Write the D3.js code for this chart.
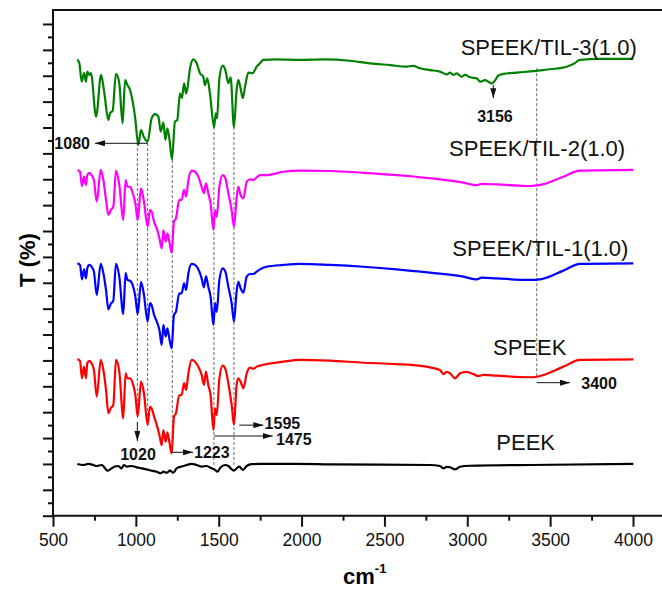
<!DOCTYPE html>
<html>
<head>
<meta charset="utf-8">
<style>
  body { margin: 0; background: #fff; }
  svg { display: block; font-family: "Liberation Sans", Arial, sans-serif; }
  .trace { fill: none; stroke-width: 2.2px; stroke-linejoin: round; }
  .axis line { stroke: #111; stroke-width: 2px; }
  .axis path { display: none; }
  .axis text { font-size: 17.5px; fill: #111; font-family: "Liberation Sans", Arial, sans-serif; }
  .guide { stroke: #666; stroke-width: 1px; stroke-dasharray: 3,2; }
  .note { font-size: 16px; font-weight: bold; fill: #111; }
  .name { font-size: 22px; fill: #111; }
</style>
</head>
<body>
<script src="https://cdn.jsdelivr.net/npm/d3@7"></script>
<script>

// series: [wavenumber (cm-1), T (offset, arbitrary units)]
var til3 = [[647,176.3],[659,174.8],[673,167.7],[687,171.0],[699,167.7],[707,171.6],[719,170.3],[729,171.0],
  [760,154.2],[790,170.3],[810,163.2],[834,152.9],[844,155.5],[860,156.5],[880,170.7],[900,167.1],[920,151.6],
  [935,168.4],[949,166.4],[965,164.5],[995,154.2],[1015,143.3],[1031,149.0],[1049,146.2],[1071,144.5],
  [1095,153.5],[1116,155.2],[1136,154.2],[1150,148.4],[1166,151.9],[1178,145.2],[1190,149.7],[1202,145.8],
  [1218,137.7],[1236,152.3],[1250,152.9],[1266,163.2],[1278,161.3],[1291,167.1],[1303,163.2],[1311,165.1],
  [1327,172.9],[1347,176.3],[1367,174.8],[1387,171.0],[1407,169.6],[1417,166.4],[1431,169.0],[1447,163.2],
  [1472,150.1],[1482,155.5],[1490,153.5],[1504,169.0],[1524,173.9],[1540,172.2],[1558,167.1],[1572,169.4],
  [1592,150.1],[1608,164.5],[1618,168.4],[1632,165.1],[1645,161.3],[1659,165.8],[1679,171.2],[1705,171.0],
  [1729,173.5],[1749,174.8],[1769,176.1],[1850,176.3],[1991,176.1],[2131,176.3],[2292,175.8],[2413,174.8],
  [2534,174.1],[2634,173.5],[2674,173.8],[2715,172.9],[2775,172.2],[2835,171.6],[2876,170.5],[2896,171.2],
  [2916,170.3],[2936,170.9],[2966,169.6],[2986,170.3],[3016,169.4],[3057,169.0],[3077,167.7],[3107,168.3],
  [3127,167.7],[3147,167.0],[3167,168.1],[3187,170.1],[3218,170.7],[3298,171.2],[3399,171.8],[3499,172.5],
  [3600,173.5],[3640,174.5],[3680,176.1],[3801,176.5],[4002,176.5]];

var til2 = [[647,133.6],[663,132.9],[675,127.4],[687,131.0],[699,127.8],[707,131.6],[719,132.5],[733,131.6],
  [747,129.7],[764,121.3],[788,133.6],[804,129.7],[820,122.0],[834,116.2],[848,118.1],[864,119.4],[880,133.3],
  [900,127.8],[924,114.3],[938,129.7],[949,127.1],[965,127.1],[981,124.6],[997,120.7],[1011,114.3],[1031,126.5],
  [1049,121.3],[1071,111.7],[1085,118.1],[1095,117.5],[1110,113.6],[1126,111.0],[1142,107.2],[1156,103.3],
  [1166,110.4],[1180,105.9],[1190,109.1],[1202,105.9],[1216,101.6],[1230,113.6],[1242,114.9],[1262,122.0],
  [1276,122.0],[1291,125.9],[1303,123.3],[1317,129.7],[1337,133.3],[1357,132.9],[1377,131.0],[1397,127.1],
  [1411,124.6],[1423,128.4],[1437,124.6],[1451,120.7],[1468,110.4],[1478,118.1],[1488,115.5],[1504,127.1],
  [1524,131.6],[1540,130.4],[1558,124.6],[1578,118.1],[1592,111.7],[1608,122.6],[1618,127.1],[1632,123.9],
  [1649,122.6],[1669,129.1],[1689,130.0],[1709,129.7],[1729,130.7],[1749,131.6],[1789,131.6],[1890,132.9],
  [1991,133.3],[2172,133.2],[2373,132.5],[2574,131.6],[2775,130.4],[2976,128.7],[3057,127.7],[3087,128.2],
  [3177,128.0],[3378,127.4],[3439,127.8],[3580,131.0],[3680,133.3],[4002,133.6]];

var til1 = [[647,97.5],[663,96.9],[675,91.3],[687,95.2],[699,91.7],[707,95.6],[719,96.9],[733,96.2],[747,94.3],
  [764,85.3],[788,97.3],[804,93.7],[820,87.2],[834,79.7],[848,81.8],[864,83.1],[880,97.3],[900,92.4],[924,77.9],
  [938,93.7],[949,91.1],[965,90.8],[981,89.1],[997,84.6],[1011,77.9],[1031,90.4],[1049,85.3],[1071,75.0],
  [1085,82.1],[1095,81.4],[1110,77.6],[1126,75.0],[1142,71.8],[1156,66.0],[1166,73.7],[1180,69.2],[1190,72.4],
  [1202,68.5],[1216,64.7],[1230,77.6],[1242,78.8],[1262,85.9],[1276,85.9],[1291,89.8],[1303,87.2],[1317,93.7],
  [1337,97.3],[1357,96.9],[1377,95.2],[1397,91.7],[1411,88.2],[1423,92.6],[1437,88.5],[1451,84.6],[1468,73.7],
  [1478,82.1],[1488,78.8],[1504,91.1],[1524,95.6],[1540,94.3],[1558,88.5],[1578,82.1],[1592,75.0],[1608,86.6],
  [1618,90.4],[1632,87.9],[1649,86.2],[1669,92.4],[1689,93.4],[1709,93.4],[1729,94.3],[1749,95.2],[1789,96.2],
  [1890,96.9],[1991,97.3],[2172,96.9],[2373,96.2],[2574,95.2],[2775,93.9],[2976,92.4],[3057,91.3],[3087,92.0],
  [3177,91.7],[3378,91.1],[3439,91.3],[3580,94.7],[3680,97.3],[4002,97.5]];

var speek = [[647,60.5],[663,59.8],[675,53.1],[687,57.6],[699,53.1],[707,58.9],[719,59.8],[733,58.9],[747,56.3],
  [764,46.0],[788,60.2],[804,56.3],[820,48.6],[834,39.6],[848,41.5],[864,42.8],[880,60.2],[900,55.7],[924,37.6],
  [938,55.0],[949,53.1],[965,53.1],[981,51.2],[997,46.6],[1011,38.3],[1031,51.8],[1049,47.3],[1071,35.1],
  [1085,42.1],[1095,41.5],[1110,38.3],[1126,35.1],[1142,31.2],[1156,27.3],[1166,33.1],[1180,28.6],[1190,32.2],
  [1202,28.6],[1216,24.1],[1230,38.3],[1242,39.6],[1262,46.6],[1276,46.6],[1291,51.2],[1303,48.6],[1317,55.0],
  [1337,60.2],[1357,59.5],[1377,57.6],[1397,54.4],[1411,50.5],[1423,55.7],[1437,50.5],[1451,46.6],[1468,33.1],
  [1478,41.5],[1488,38.9],[1504,53.1],[1524,58.0],[1540,56.7],[1558,51.2],[1578,42.8],[1592,35.1],[1608,50.5],
  [1618,53.1],[1632,51.8],[1649,49.2],[1669,55.0],[1689,57.2],[1709,56.7],[1729,57.6],[1749,58.0],[1890,59.5],
  [1991,60.2],[2172,59.9],[2373,59.1],[2574,58.6],[2775,57.3],[2835,56.3],[2856,54.7],[2876,55.6],[2896,55.0],
  [2926,53.1],[2956,55.0],[2996,55.6],[3037,54.7],[3067,54.0],[3097,54.4],[3177,54.1],[3378,53.5],[3419,53.7],
  [3580,57.6],[3680,60.2],[4002,60.4]];

var peek = [[647,20.0],[683,19.6],[713,20.0],[743,19.6],[764,19.2],[794,19.6],[814,18.3],[828,17.4],[854,18.3],
  [874,19.0],[894,19.2],[914,18.3],[928,19.6],[945,19.0],[975,19.2],[1005,18.7],[1035,18.3],[1065,17.9],
  [1095,17.4],[1126,17.0],[1150,16.4],[1166,17.0],[1186,16.6],[1206,17.4],[1226,16.6],[1246,18.3],[1276,19.0],
  [1307,19.6],[1337,20.0],[1367,19.6],[1397,19.0],[1427,19.2],[1457,18.3],[1478,17.7],[1492,17.0],[1512,18.7],
  [1538,19.6],[1558,19.2],[1572,18.3],[1592,17.4],[1608,18.3],[1624,19.0],[1645,17.7],[1669,19.2],[1699,19.9],
  [1749,20.0],[1910,20.0],[2101,19.9],[2172,19.8],[2775,19.6],[2835,19.2],[2856,18.3],[2876,18.9],[2896,18.7],
  [2926,17.9],[2956,18.9],[3016,19.3],[3378,19.6],[4002,20.0]];

var seriesNames = ["SPEEK/TIL-3(1.0)", "SPEEK/TIL-2(1.0)", "SPEEK/TIL-1(1.0)", "SPEEK", "PEEK"];
var seriesColors = ["#008000", "#ff00ff", "#0000ff", "#ff0000", "#000000"];
var seriesData = [til3, til2, til1, speek, peek];
// label anchor: [wavenumber, T]
var labelPos = [[2960, 181.2], [2890, 141.9], [2910, 103.6], [3155, 65.1], [3175, 28.6]];

var xTicks = [500, 1000, 1500, 2000, 2500, 3000, 3500, 4000];
var xMinor = [750, 1250, 1750, 2250, 2750, 3250, 3750];

// guide lines: [wavenumber, T top, T bottom]
var guides = [[1009, 144.0, 37.7], [1071, 144.0, 34.7], [1220, 137.4, 24.2], [1471, 150.2, 18.9],
  [1592, 150.2, 18.9], [3419, 172.9, 53.6]];

var W = 662, H = 589;
var x = d3.scaleLinear().domain([500, 4000]).range([53, 633]);
var y = d3.scaleLinear().domain([0, 195.4]).range([515.7, 10]);

var svg = d3.select("body").append("svg").attr("width", W).attr("height", H);

svg.append("defs").append("marker")
  .attr("id", "head")
  .attr("viewBox", "0 0 10 6")
  .attr("refX", 10).attr("refY", 3)
  .attr("markerWidth", 10).attr("markerHeight", 6)
  .attr("markerUnits", "userSpaceOnUse")
  .attr("orient", "auto")
  .append("path").attr("d", "M0,0L10,3L0,6Z").attr("fill", "#111");

// y ticks (no labels)
var yMajor = d3.range(0, 195, 10), yMin = d3.range(5, 195, 10);
svg.append("g").attr("class", "axis").attr("transform", "translate(53,0)")
  .call(d3.axisLeft(y).tickValues(yMajor).tickSize(10).tickFormat(""));
svg.append("g").attr("class", "axis").attr("transform", "translate(53,0)")
  .call(d3.axisLeft(y).tickValues(yMin).tickSize(5).tickFormat(""));

// x ticks
svg.append("g").attr("class", "axis").attr("transform", "translate(0,515.7)")
  .call(d3.axisBottom(x).tickValues(xTicks).tickSize(11).tickPadding(7)
    .tickSizeOuter(0).tickFormat(d3.format("d")));
svg.append("g").attr("class", "axis").attr("transform", "translate(0,515.7)")
  .call(d3.axisBottom(x).tickValues(xMinor).tickSize(5).tickFormat(""));

// frame
svg.append("path")
  .attr("d", "M662,10H53V515.7H662")
  .attr("fill", "none").attr("stroke", "#111").attr("stroke-width", 2);

// guides
svg.selectAll(".guide").data(guides).enter().append("line")
  .attr("class", "guide")
  .attr("x1", function(d) { return x(d[0]); }).attr("x2", function(d) { return x(d[0]); })
  .attr("y1", function(d) { return y(d[1]); }).attr("y2", function(d) { return y(d[2]); });

var line = d3.line()
  .x(function(d) { return x(d[0]); })
  .y(function(d) { return y(d[1]); })
  .curve(d3.curveMonotoneX);

svg.selectAll(".trace").data(seriesData).enter().append("path")
  .attr("class", "trace")
  .attr("stroke", function(d, i) { return seriesColors[i]; })
  .attr("d", line);

svg.selectAll(".name").data(seriesNames).enter().append("text")
  .attr("class", "name")
  .attr("x", function(d, i) { return x(labelPos[i][0]); })
  .attr("y", function(d, i) { return y(labelPos[i][1]); })
  .attr("dy", "0.36em")
  .text(function(d) { return d; });

// peak annotations: arrow from [wn,T] to [wn,T], label at [wn,T] with anchor
var arrows = [
  { from: [1071, 143.9], to: [753, 143.9], text: "1080", at: [723, 143.9], anchor: "end" },
  { from: [1009, 36.2], to: [1009, 28.9], text: "1020", at: [1013, 23.7], anchor: "middle" },
  { from: [1220, 24.5], to: [1345, 24.5], text: "1223", at: [1351, 24.5], anchor: "start" },
  { from: [1624, 35.0], to: [1769, 35.0], text: "1595", at: [1777, 35.6], anchor: "start" },
  { from: [1473, 30.8], to: [1826, 30.8], text: "1475", at: [1846, 29.5], anchor: "start" },
  { from: [3157, 166.4], to: [3157, 161.3], text: "3156", at: [3167, 154.2], anchor: "middle" },
  { from: [3419, 51.4], to: [3620, 51.4], text: "3400", at: [3688, 51.2], anchor: "start" }
];

svg.selectAll(".arr").data(arrows).enter().append("line")
  .attr("class", "arr")
  .attr("stroke", "#111").attr("stroke-width", 1)
  .attr("marker-end", "url(#head)")
  .attr("x1", function(d) { return x(d.from[0]); }).attr("y1", function(d) { return y(d.from[1]); })
  .attr("x2", function(d) { return x(d.to[0]); }).attr("y2", function(d) { return y(d.to[1]); });

svg.selectAll(".note").data(arrows).enter().append("text")
  .attr("class", "note")
  .attr("text-anchor", function(d) { return d.anchor; })
  .attr("x", function(d) { return x(d.at[0]); })
  .attr("y", function(d) { return y(d.at[1]); })
  .attr("dy", "0.36em")
  .text(function(d) { return d.text; });

// axis titles
svg.append("text")
  .attr("transform", "translate(27,260) rotate(-90)")
  .attr("text-anchor", "middle").attr("dy", "0.36em")
  .attr("font-size", "22px").attr("font-weight", "bold")
  .text("T (%)");

var xt = svg.append("text")
  .attr("x", 343).attr("y", 584)
  .attr("font-size", "22px").attr("font-weight", "bold");
xt.append("tspan").text("cm");
xt.append("tspan").attr("dy", -11).attr("font-size", "13px").text("-1");

</script>
</body>
</html>
